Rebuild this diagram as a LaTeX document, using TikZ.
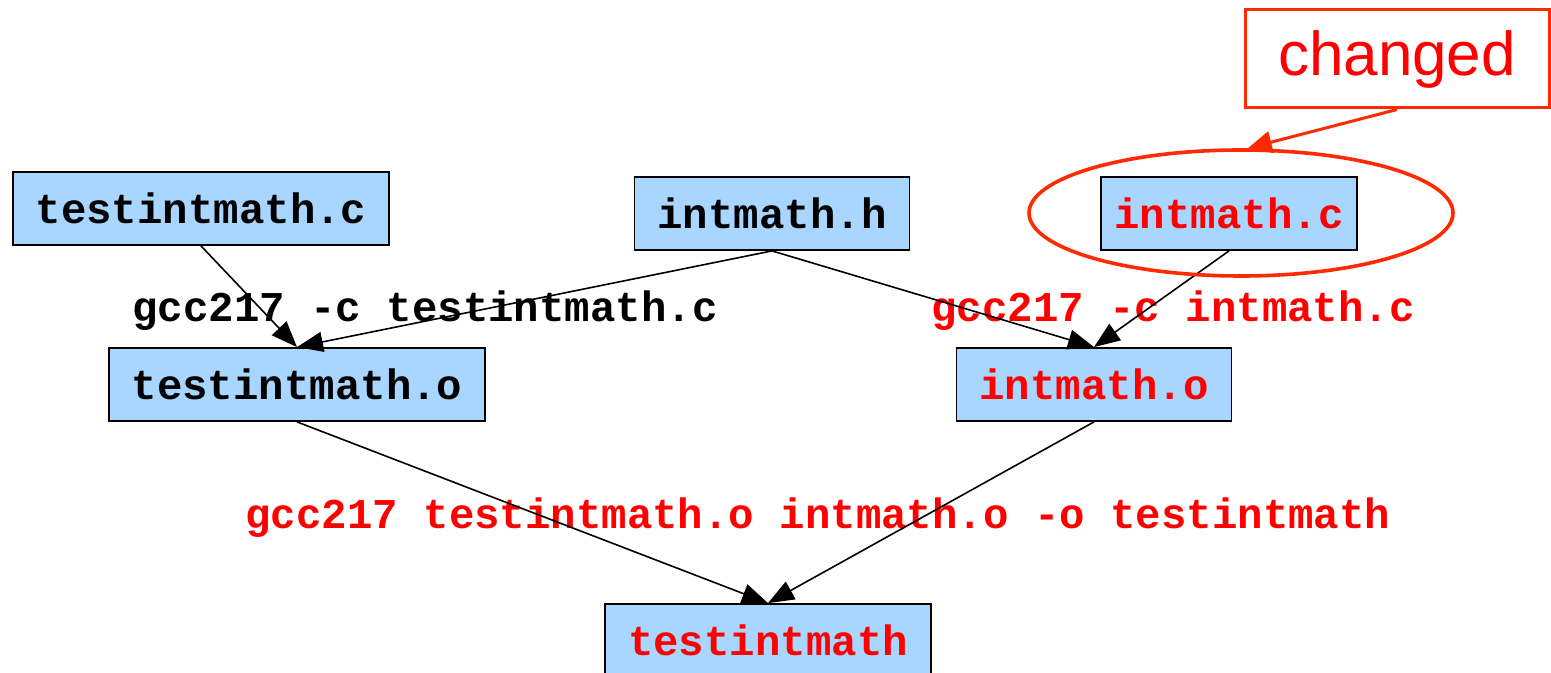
\documentclass[tikz,border=0pt]{standalone}
\usepackage{fontspec}
\setmainfont{Liberation Sans}
\setmonofont{Liberation Mono}
\usetikzlibrary{arrows.meta,shapes.geometric}
\definecolor{fileblue}{RGB}{168,214,255}
\definecolor{markred}{RGB}{255,42,0}

\begin{document}
\begin{tikzpicture}[
        x=0.5pt, y=-0.5pt,
        file/.style={
            draw,
            fill=fileblue,
            line width=0.9pt,
            minimum height=36.5pt,
            inner xsep=11.5pt,
            font=\fontsize{21.2}{21.2}\selectfont\ttfamily\bfseries
        },
        cmd/.style={
            inner sep=0pt,
            font=\fontsize{21.2}{21.2}\selectfont\ttfamily\bfseries
        },
        dep/.style={-{Triangle[length=13pt,width=10pt]}, line width=0.8pt}
    ]
            \useasboundingbox (0,0) rectangle (1551,673);

            \node[file, name=tc] at (201,208.5) {testintmath.c};
            \node[file, name=ih] at (772,213.5) {intmath.h};
            \node[
                file,
                inner xsep=6.75pt,
                text=red,
                name=ic
            ] at (1229,213.5) {intmath.c};

            \node[file, name=to] at (297,384.5) {testintmath.o};
            \node[file, text=red, name=io] at (1094,384.5) {intmath.o};
            \node[file, text=red, name=tm] at (768,640.5) {testintmath};

            \node[cmd, name=cc1] at (425,311) {gcc217 -c testintmath.c};
            \node[cmd, text=red, name=cc2] at (1173,311) {gcc217 -c intmath.c};
            \node[cmd, text=red, name=ld] at (818,518) {gcc217 testintmath.o intmath.o -o testintmath};

            \draw[dep] (tc.south) -- (to.north);
            \draw[dep] (ih.south) -- (to.north);
            \draw[dep] (ih.south) -- (io.north);
            \draw[dep] (ic.south) -- (io.north);

            \draw[dep] (to.south) -- (tm.north);
            \draw[dep] (io.south) -- (tm.north);

            % marker round the changed file
            \node[
                draw=markred,
                ellipse,
                line width=1.8pt,
                minimum width=212pt,
                minimum height=63pt,
                inner sep=0pt,
                name=ring
            ] at (1241,213) {};
            \node[
                draw=markred,
                line width=1.5pt,
                minimum width=152pt,
                minimum height=49pt,
                inner ysep=2pt,
                text=red,
                font=\fontsize{31}{31}\selectfont,
                name=note
            ] at (1397,59) {\raisebox{-4pt}{changed}\hspace{10pt}};

            \draw[
                -{Triangle[length=12pt,width=11pt]},
                draw=markred,
                fill=markred,
                line width=1.5pt
            ] (note.south) -- (ring.84);
        \end{tikzpicture}
\end{document}
